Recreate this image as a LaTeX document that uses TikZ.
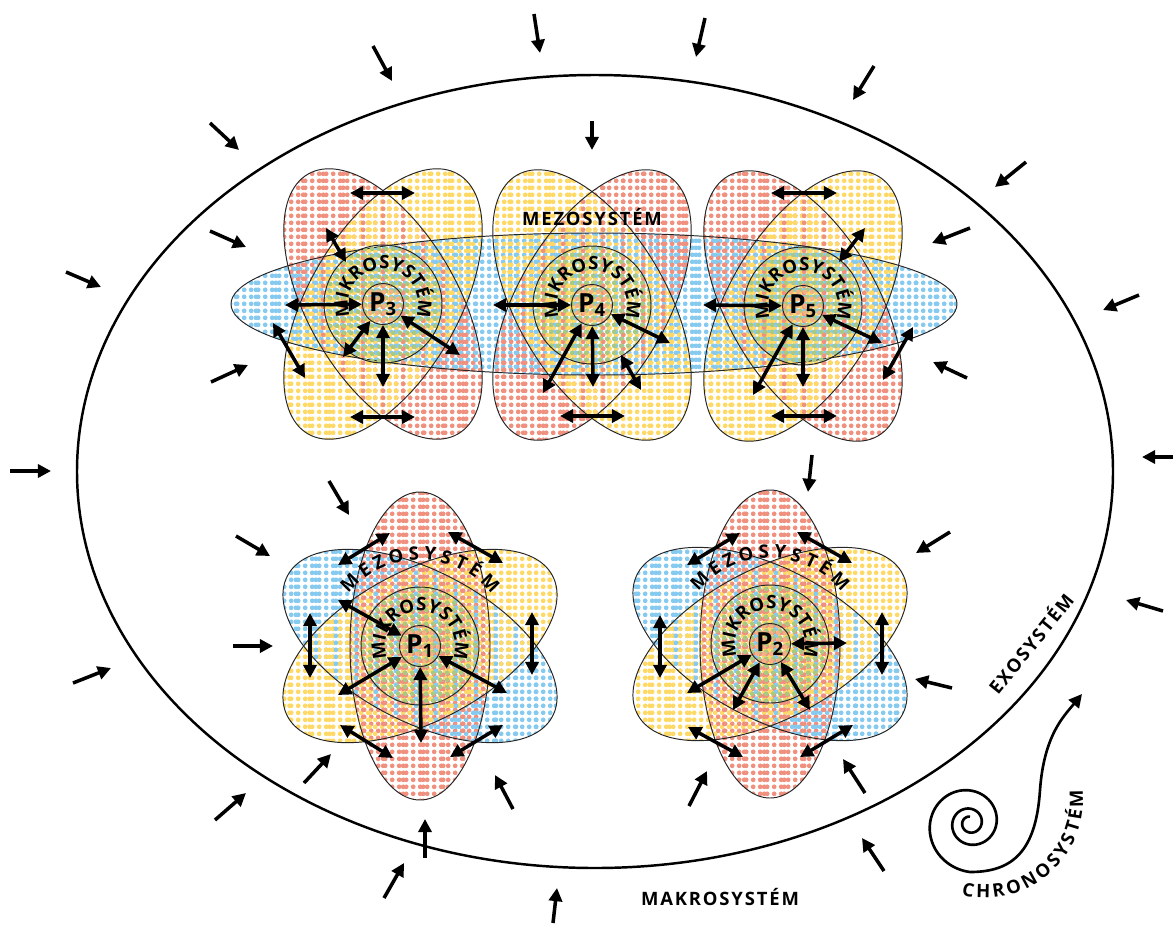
\documentclass[tikz,border=0pt]{standalone}
\usepackage{fontspec}
\setmainfont{Open Sans}
\usetikzlibrary{arrows.meta,patterns,decorations.text,calc}

\definecolor{dotred}{HTML}{F0907E}
\definecolor{dotyellow}{HTML}{FFD966}
\definecolor{dotblue}{HTML}{86CAF0}
\definecolor{dotgreen}{HTML}{A8C97F}
\definecolor{dotorange}{HTML}{F5B183}

% full dot grid, and the same grid thinned to every third column
\pgfdeclarepatternformonly{dotgrid}{\pgfqpoint{0pt}{0pt}}{\pgfqpoint{3.8pt}{3.8pt}}{\pgfqpoint{3.8pt}{3.8pt}}%
  {\pgfpathcircle{\pgfqpoint{1.9pt}{1.9pt}}{1.4pt}\pgfusepath{fill}}
\pgfdeclarepatternformonly{dotcolA}{\pgfqpoint{0pt}{0pt}}{\pgfqpoint{11.4pt}{3.8pt}}{\pgfqpoint{11.4pt}{3.8pt}}%
  {\pgfpathcircle{\pgfqpoint{1.9pt}{1.9pt}}{1.4pt}\pgfusepath{fill}}
\pgfdeclarepatternformonly{dotcolB}{\pgfqpoint{0pt}{0pt}}{\pgfqpoint{11.4pt}{3.8pt}}{\pgfqpoint{11.4pt}{3.8pt}}%
  {\pgfpathcircle{\pgfqpoint{5.7pt}{1.9pt}}{1.4pt}\pgfusepath{fill}}
\pgfdeclarepatternformonly{dotcolC}{\pgfqpoint{0pt}{0pt}}{\pgfqpoint{11.4pt}{3.8pt}}{\pgfqpoint{11.4pt}{3.8pt}}%
  {\pgfpathcircle{\pgfqpoint{9.5pt}{1.9pt}}{1.4pt}\pgfusepath{fill}}

\newcommand\arcfont{\bfseries\fontsize{10.5}{11}\selectfont}

% centre x / centre y / angle / radii / colour / column phase
\def\lobes{594/304/0/363/71/dotblue/C,
  383/304/-60/150/75/dotred/A, 383/304/60/150/75/dotyellow/B,
  592/305/60/150/75/dotred/A, 592/305/-60/150/75/dotyellow/B,
  803/306/-60/150/75/dotred/A, 803/306/60/150/75/dotyellow/B,
  420/646/90/154/70/dotred/A, 420/646/-28/150/75/dotblue/C, 420/646/28/150/75/dotyellow/B,
  770/644/90/154/70/dotred/A, 770/644/-28/150/75/dotblue/C, 770/644/28/150/75/dotyellow/B}

\tikzset{
  shell/.style={draw=black!85, line width=0.55pt},
  link/.style={<->, line width=2pt},
  push/.style={->, line width=2pt},
  person/.style={circle, draw=black!85, line width=0.55pt, pattern=dotgrid,
    pattern color=dotorange, minimum size=0.82cm, inner sep=0pt,
    font=\bfseries\fontsize{15}{15}\selectfont},
  micro/.style={circle, draw=black!85, line width=0.55pt, pattern=dotgrid,
    pattern color=dotgreen, minimum size=2.36cm, inner sep=0pt},
  sysname/.style={font=\bfseries\fontsize{10.5}{11}\selectfont\addfontfeature{LetterSpace=10}},
}

\begin{document}
\begin{tikzpicture}[x=0.02cm, y=0.02cm, >={Triangle[length=7.5pt,width=7.5pt]}]
\useasboundingbox (0,0) rectangle (1173,-924);

% outer boundary
\draw[line width=1.4pt] (595,-471.5) ellipse[x radius=518, y radius=396.5];

% mesosystem lobes: dots first, mixed columns, then outlines
\foreach \cx/\cy/\ang/\rx/\ry/\col/\ph in \lobes
  \fill[pattern=dotgrid, pattern color=\col, rotate around={\ang:(\cx,-\cy)}]
    (\cx,-\cy) ellipse[x radius=\rx, y radius=\ry];
\foreach \cx/\cy/\ang/\rx/\ry/\col/\ph in \lobes
  \fill[pattern=dotcol\ph, pattern color=\col, rotate around={\ang:(\cx,-\cy)}]
    (\cx,-\cy) ellipse[x radius=\rx, y radius=\ry];
\foreach \cx/\cy/\ang/\rx/\ry/\col/\ph in \lobes
  \path[shell, rotate around={\ang:(\cx,-\cy)}]
    (\cx,-\cy) ellipse[x radius=\rx, y radius=\ry];

% microsystems and persons
\node[micro] (m3) at (383,-304) {};
\node[micro] (m4) at (592,-305) {};
\node[micro] (m5) at (803,-306) {};
\node[micro] (m1) at (420,-646) {};
\node[micro] (m2) at (770,-644) {};
\node[person] (p3) at (383,-304) {P\textsubscript{3}};
\node[person] (p4) at (592,-305) {P\textsubscript{4}};
\node[person] (p5) at (803,-306) {P\textsubscript{5}};
\node[person] (p1) at (420,-646) {P\textsubscript{1}};
\node[person] (p2) at (770,-644) {P\textsubscript{2}};

\foreach \p in {p1,p2,p3,p4,p5}
  \path[decorate, decoration={text along path, text align=fit to path,
      text={|\arcfont|MIKROSYSTÉM}}]
    ($(\p)+(201:35)$) arc[start angle=201, end angle=-21, radius=35];
\foreach \p in {p1,p2}
  \path[decorate, decoration={text along path, text align=fit to path,
      text={|\arcfont|MEZOSYSTÉM}}]
    ($(\p)+(0,-6)+(141:92)$) arc[start angle=141, end angle=39, radius=92];

% links between settings
\foreach \ax/\ay/\bx/\by [count=\i] in {350/193/415/193, 326/228/346/262, 273/323/305/378,
    350/417/415/417, 621/355/641/390, 560/416/625/416, 771/193/837/193, 865/228/839/262,
    913/327/883/380, 771/416/837/416, 390/533/338/565, 448/532/503/563, 310/613/310/678,
    532/612/532/675, 340/725/393/758, 503/725/450/757, 740/533/687/565, 797/532/852/563,
    660/615/660/678, 882/612/882/675, 688/727/743/757, 853/725/800/757}{
  \coordinate (la\i) at (\ax,-\ay);
  \coordinate (lb\i) at (\bx,-\by);
  \draw[link] (la\i) -- (lb\i);
}
% links to a person
\foreach \p/\bx/\by [count=\i] in {p3/285/305, p3/343/357, p3/383/387, p3/460/355,
    p4/493/305, p4/543/393, p4/593/387, p4/670/343,
    p5/703/305, p5/753/395, p5/803/387, p5/882/343,
    p1/338/600, p1/338/695, p1/421/743, p1/507/693,
    p2/847/643, p2/687/693, p2/733/710, p2/810/710}{
  \coordinate (lp\i) at (\bx,-\by);
  \draw[link] (\p) -- (lp\i);
}

% influences from outside
\foreach \ax/\ay/\bx/\by [count=\i] in {534/14/540/53, 705/18/696/57, 373/46/392/81,
    874/66/853/100, 210/123/239/150, 1026/162/995/187, 66/272/101/287, 1139/295/1103/310,
    10/471/51/471, 1173/457/1142/457, 1163/611/1126/600, 73/683/111/668, 215/820/246/793,
    384/898/404/863, 553/923/557/888, 884/871/862/838,
    592/121/592/150, 210/231/246/247, 970/228/932/243, 211/382/248/365, 967/378/933/362,
    329/481/349/515, 812/455/808/492, 236/536/270/556, 950/532/916/553, 233/646/273/646,
    952/688/915/679, 304/783/331/754, 513/809/495/775, 425/858/425/819, 689/806/707/771,
    865/793/843/759}{
  \coordinate (fa\i) at (\ax,-\ay);
  \coordinate (fb\i) at (\bx,-\by);
  \draw[push] (fa\i) -- (fb\i);
}

% labels
\node[sysname] (meso) at (592,-217) {MEZOSYSTÉM};
\node[sysname] (macro) at (720,-897) {MAKROSYSTÉM};
\node[sysname, rotate=51] (exo) at (1030,-643) {EXOSYSTÉM};

% time spiral
\coordinate (chrono) at (985,-800);
\coordinate (chronotip) at (1082,-694);
\draw[line width=1.5pt, ->] plot[domain=-630:270, samples=241, smooth, variable=\t]
  ({970+49*exp(0.00227*(\t-270))*cos(\t)}, {-823+49*exp(0.00227*(\t-270))*sin(\t)})
  .. controls (1012,-872) and (1036,-852) .. (1040,-790)
  .. controls (1044,-735) and (1064,-716) .. (chronotip);
\path[decorate, decoration={text along path, text align=fit to path,
    text={|\arcfont|CHRONOSYSTÉM}}]
  ($(chrono)+(256:98)$) arc[start angle=256, end angle=366, radius=98];
\end{tikzpicture}
\end{document}
